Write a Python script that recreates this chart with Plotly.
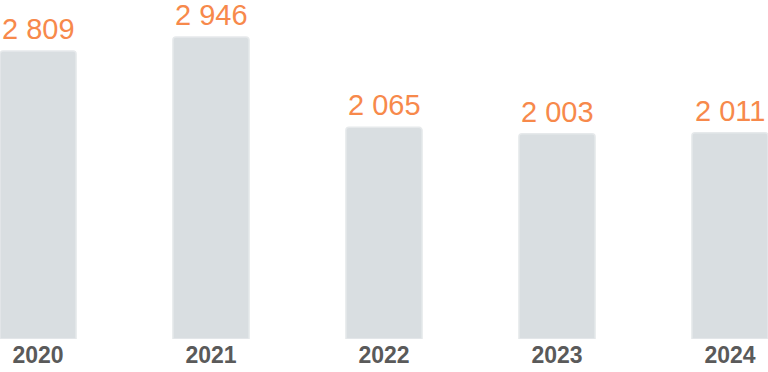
import plotly.graph_objects as go

years = ["2020", "2021", "2022", "2023", "2024"]
values = [2809, 2946, 2065, 2003, 2011]
labels = ["2 809", "2 946", "2 065", "2 003", "2 011"]

fig = go.Figure()
fig.add_trace(go.Bar(
    x=list(range(len(years))), y=values,
    width=0.44,
    marker=dict(color="#d9dee1", line=dict(color="#e6e9eb", width=1.5), cornerradius=3),
    hoverinfo="skip",
))
for i, (v, t) in enumerate(zip(values, labels)):
    fig.add_annotation(x=i, y=v, text=t, showarrow=False, yanchor="bottom", yshift=4,
                       font=dict(family="Liberation Sans, Arial", size=29, color="#f7894b"))

fig.update_layout(
    width=768, height=372,
    margin=dict(l=0, r=0, t=0, b=33),
    paper_bgcolor="white", plot_bgcolor="white",
    showlegend=False,
    xaxis=dict(range=[-0.2197, 4.2197], tickvals=list(range(len(years))), ticktext=years,
               showgrid=False, zeroline=False, showline=False, ticks="",
               tickfont=dict(family="Liberation Sans, Arial", size=23, color="#5a5a5a", weight="bold")),
    yaxis=dict(range=[0, 3307], visible=False, showgrid=False, zeroline=False),
)
fig.write_html("out.html", config={"displayModeBar": False, "staticPlot": True},
               post_script="document.body.style.margin='0';document.body.style.overflow='hidden';")
